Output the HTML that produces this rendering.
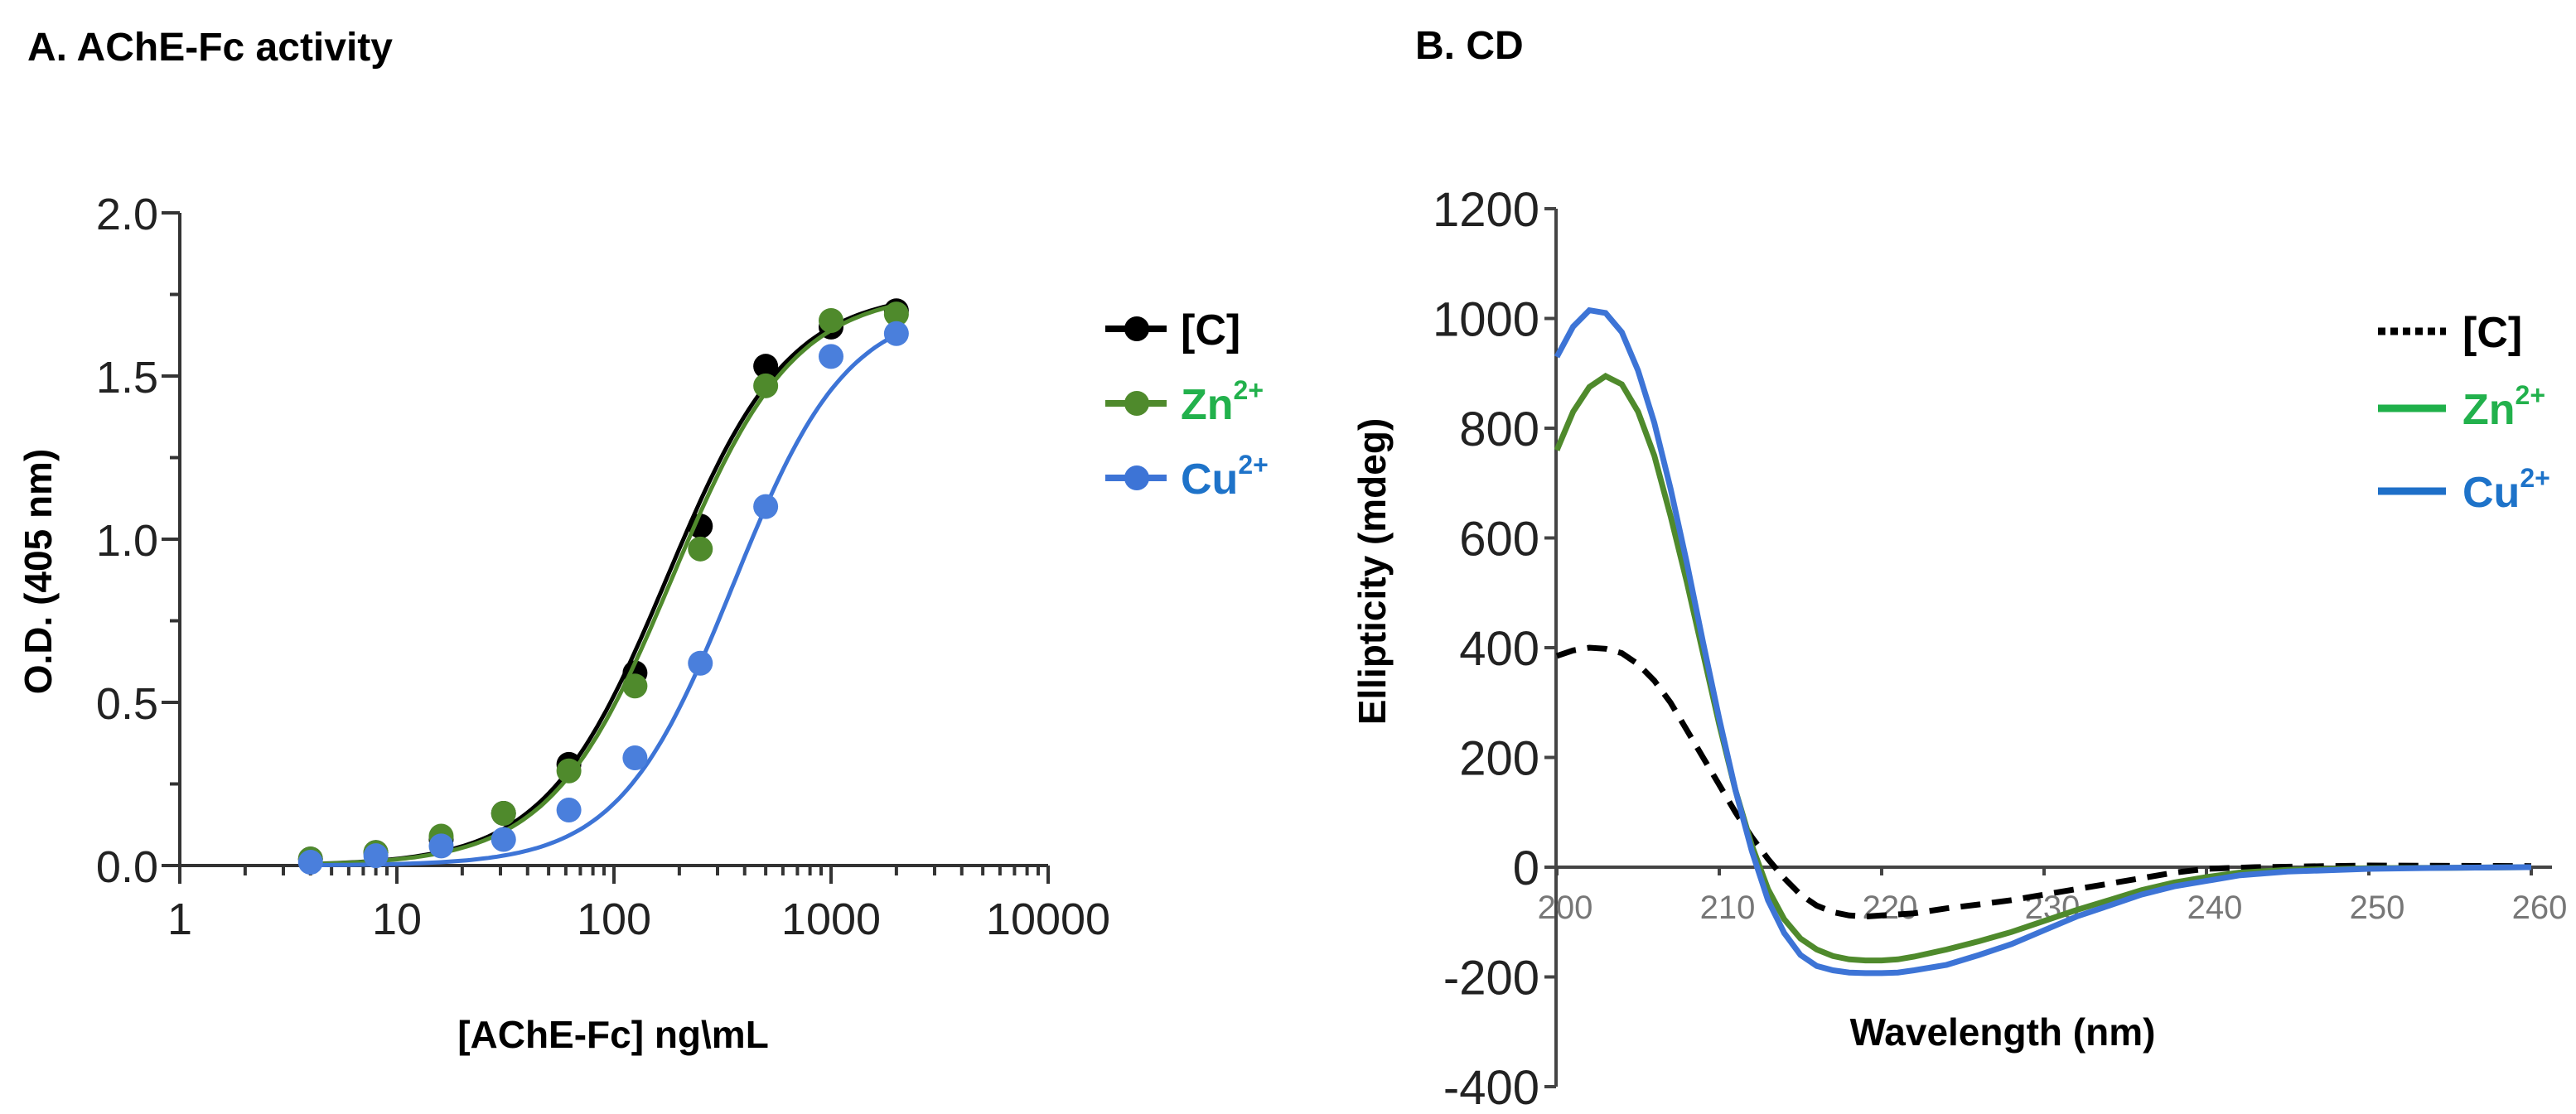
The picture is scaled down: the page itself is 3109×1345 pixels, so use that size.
<!DOCTYPE html>
<html><head><meta charset="utf-8">
<style>
html,body{margin:0;padding:0;background:#fff;}
svg{display:block;font-family:"Liberation Sans",sans-serif;}
</style></head>
<body>
<svg id="fig" width="3109" height="1345" viewBox="0 0 3109 1345" xmlns="http://www.w3.org/2000/svg">
  <text x="33" y="73" font-size="48" font-weight="bold">A. AChE-Fc activity</text>
  <text x="1708" y="71" font-size="48" font-weight="bold">B. CD</text>
  <g id="panelA"></g>
  <g id="panelB"></g>
</svg>
<script>
// ---------- Panel A data ----------
const concA = [4, 8, 16, 31, 62, 125, 250, 500, 1000, 2000];
const odControl = [0.02, 0.04, 0.08, 0.16, 0.31, 0.59, 1.04, 1.53, 1.65, 1.70];
const odZinc = [0.02, 0.04, 0.09, 0.16, 0.29, 0.55, 0.97, 1.47, 1.67, 1.69];
const odCopper = [0.01, 0.03, 0.06, 0.08, 0.17, 0.33, 0.62, 1.10, 1.56, 1.63];
// 4PL fit parameters: [bottom, top, EC50, hill]
const fitControl = [0, 1.76, 175, 1.55];
const fitZinc = [0, 1.76, 185, 1.55];
const fitCopper = [0, 1.72, 354, 1.65];
const yTicksA = [0, 0.5, 1.0, 1.5, 2.0];
const yTickLabelsA = ["0.0", "0.5", "1.0", "1.5", "2.0"];
const xTicksA = [1, 10, 100, 1000, 10000];
const xTickLabelsA = ["1", "10", "100", "1000", "10000"];

// ---------- Panel B data ----------
const wlCu = [200,201,202,203,204,205,206,207,208,209,210,211,212,213,214,215,216,217,218,219,220,221,222,224,226,228,230,232,234,236,238,240,242,245,250,255,260];
const cdCu = [930,985,1015,1010,975,905,810,690,555,410,270,140,30,-60,-120,-160,-180,-188,-192,-193,-193,-192,-188,-178,-160,-140,-115,-90,-70,-50,-35,-25,-15,-8,-3,-1,0];
const cdZn = [760,830,875,895,880,830,750,640,520,390,260,140,40,-40,-95,-130,-150,-162,-168,-170,-170,-168,-163,-150,-135,-118,-98,-78,-60,-42,-28,-18,-10,-5,-2,-1,0];
const wlC = [200,201,202,203,204,205,206,207,208,209,210,211,212,213,214,215,216,217,218,219,220,222,224,226,228,230,232,234,236,238,240,243,250,260];
const cdC = [385,395,400,398,390,370,340,300,250,200,150,100,55,15,-20,-50,-70,-82,-88,-90,-88,-84,-75,-68,-60,-50,-40,-30,-20,-10,-3,0,3,2];
const yTicksB = [-400,-200,0,200,400,600,800,1000,1200];
const xTicksB = [200,210,220,230,240,250,260];

const NS = "http://www.w3.org/2000/svg";
function mk(tag, attrs, parent, txt){
  const e = document.createElementNS(NS, tag);
  for (const k in attrs) e.setAttribute(k, attrs[k]);
  if (txt !== undefined) e.textContent = txt;
  parent.appendChild(e);
  return e;
}

// ---------- Panel A ----------
const gA = document.getElementById('panelA');
const ax0 = 217, ax1 = 1265, ay0 = 1045, ay1 = 257;
const xA = v => ax0 + Math.log10(v) * (ax1 - ax0) / 4;
const yA = v => ay0 - v / 2 * (ay0 - ay1);

let e;
e = mk('line', {x1:ax0, y1:ay1, x2:ax0, y2:ay0+22, stroke:'#333', 'stroke-width':4}, gA);


e = mk('line', {x1:ax0-22, y1:ay0, x2:ax1, y2:ay0, stroke:'#333', 'stroke-width':4}, gA);


yTicksA.forEach((v, i) => {
  mk('line', {x1:ax0-22, y1:yA(v), x2:ax0, y2:yA(v), stroke:'#333', 'stroke-width':4}, gA);
  if (i < yTicksA.length - 1) mk('line', {x1:ax0-12, y1:yA(v+0.25), x2:ax0, y2:yA(v+0.25), stroke:'#333', 'stroke-width':4}, gA);
  e = mk('text', {x:ax0-26, y:yA(v)+20, 'font-size':54, 'text-anchor':'end', fill:'#222'}, gA, yTickLabelsA[i]);
  
  
});
xTicksA.forEach((v, i) => {
  mk('line', {x1:xA(v), y1:ay0, x2:xA(v), y2:ay0+22, stroke:'#333', 'stroke-width':4}, gA);
  if (i < xTicksA.length - 1) for (let m = 2; m <= 9; m++) mk('line', {x1:xA(v*m), y1:ay0, x2:xA(v*m), y2:ay0+12, stroke:'#333', 'stroke-width':4}, gA);
  e = mk('text', {x:xA(v), y:1128, 'font-size':54, 'text-anchor':'middle', fill:'#222'}, gA, xTickLabelsA[i]);
  
  
});
e = mk('text', {x:0, y:0, 'font-size':46, 'font-weight':'bold', 'text-anchor':'middle', transform:'translate(62,690) rotate(-90)'}, gA, 'O.D. (405 nm)');


e = mk('text', {x:740, y:1265, 'font-size':46, 'font-weight':'bold', 'text-anchor':'middle'}, gA, '[AChE-Fc] ng\\mL');



const seriesA = [
  {name:'control', vals:odControl, fit:fitControl, line:'#000', mark:'#000'},
  {name:'zinc', vals:odZinc, fit:fitZinc, line:'#4f8a2c', mark:'#4f8a2c'},
  {name:'copper', vals:odCopper, fit:fitCopper, line:'#3d74d6', mark:'#4a7fdc'}
];
seriesA.forEach(s => {
  const [b, t, ec, h] = s.fit;
  let d = '';
  for (let lx = Math.log10(concA[0]); lx <= Math.log10(concA[concA.length-1]) + 1e-9; lx += 0.02) {
    const c = Math.pow(10, lx);
    const v = b + (t - b) / (1 + Math.pow(ec / c, h));
    d += (d ? 'L' : 'M') + xA(c).toFixed(1) + ',' + yA(v).toFixed(1);
  }
  e = mk('path', {d:d, fill:'none', stroke:s.line, 'stroke-width':5}, gA);
  
  
  s.vals.forEach((v, i) => {
    e = mk('circle', {cx:xA(concA[i]), cy:yA(v), r:15, fill:s.mark}, gA);
    
    
  });
});
// legend A
const legA = [['[C]', '#000', '#000', 397], ['Zn', '#4f8a2c', '#22b14c', 487], ['Cu', '#3d74d6', '#1e73c9', 577]];
legA.forEach(l => {
  const g = mk('g', {}, gA);
  
  
  mk('line', {x1:1334, y1:l[3], x2:1408, y2:l[3], stroke:l[1], 'stroke-width':8}, g);
  mk('circle', {cx:1372, cy:l[3], r:15, fill:l[1]}, g);
  const t = mk('text', {x:1425, y:l[3]+19, 'font-size':52, 'font-weight':'bold', fill:l[2]}, g, l[0]);
  if (l[0] !== '[C]') mk('tspan', {'font-size':32, dy:-24}, t, '2+');
});

// ---------- Panel B ----------
const gB = document.getElementById('panelB');
const bx0 = 1879, bx1 = 3055, by0 = 1047, byTop = 252;
const xB = v => bx0 + (v - 200) / 60 * (bx1 - bx0);
const yB = v => by0 - v / 1200 * (by0 - byTop);

e = mk('line', {x1:1878, y1:yB(1200), x2:1878, y2:yB(-400), stroke:'#444', 'stroke-width':4}, gB);


e = mk('line', {x1:1878, y1:by0, x2:3080, y2:by0, stroke:'#444', 'stroke-width':4}, gB);


yTicksB.forEach(v => {
  mk('line', {x1:1864, y1:yB(v), x2:1878, y2:yB(v), stroke:'#444', 'stroke-width':4}, gB);
  e = mk('text', {x:1858, y:yB(v)+21, 'font-size':58, 'text-anchor':'end', fill:'#222'}, gB, String(v));
  
  
});
xTicksB.forEach(v => {
  mk('line', {x1:xB(v), y1:by0, x2:xB(v), y2:by0+10, stroke:'#444', 'stroke-width':4}, gB);
  e = mk('text', {x:xB(v)+10, y:by0+62, 'font-size':40, 'text-anchor':'middle', fill:'#777'}, gB, String(v));
  
  
});
e = mk('text', {x:0, y:0, 'font-size':46, 'font-weight':'bold', 'text-anchor':'middle', transform:'translate(1672,690) rotate(-90)'}, gB, 'Ellipticity (mdeg)');


e = mk('text', {x:2417, y:1262, 'font-size':46, 'font-weight':'bold', 'text-anchor':'middle'}, gB, 'Wavelength (nm)');



function cdPath(xs, ys){
  return xs.map((x, i) => (i ? 'L' : 'M') + xB(x).toFixed(1) + ',' + yB(ys[i]).toFixed(1)).join('');
}
e = mk('path', {d:cdPath(wlC, cdC), fill:'none', stroke:'#000', 'stroke-width':7, 'stroke-dasharray':'24,14'}, gB);


e = mk('path', {d:cdPath(wlCu, cdZn), fill:'none', stroke:'#4f8a2c', 'stroke-width':7}, gB);


e = mk('path', {d:cdPath(wlCu, cdCu), fill:'none', stroke:'#3d74d6', 'stroke-width':7}, gB);



const legB = [['[C]', '#000', '#000', 400, true], ['Zn', '#1fb04a', '#22b14c', 493, false], ['Cu', '#1e6fc8', '#1e73c9', 593, false]];
legB.forEach(l => {
  const g = mk('g', {}, gB);
  
  
  const a = {x1:2870, y1:l[3], x2:2952, y2:l[3], stroke:l[1], 'stroke-width':9};
  if (l[4]) a['stroke-dasharray'] = '9,6';
  mk('line', a, g);
  const t = mk('text', {x:2972, y:l[3]+19, 'font-size':52, 'font-weight':'bold', fill:l[2]}, g, l[0]);
  if (l[0] !== '[C]') mk('tspan', {'font-size':32, dy:-24}, t, '2+');
});
</script>
</body></html>
